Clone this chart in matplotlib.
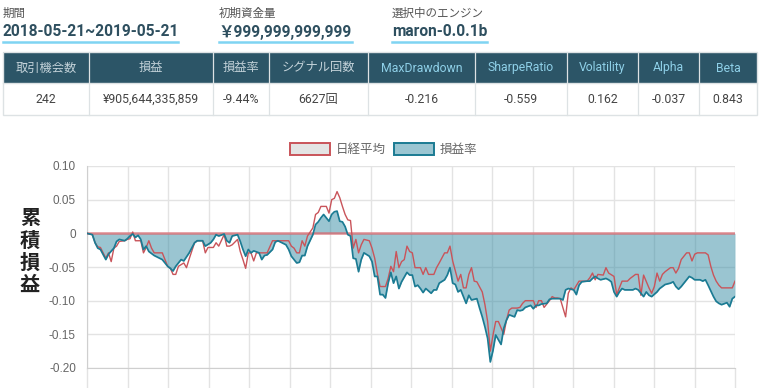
import numpy as np
import matplotlib
matplotlib.use("Agg")
import matplotlib.pyplot as plt
from matplotlib.patches import Rectangle
from matplotlib.lines import Line2D

W, H = 763, 388
JP = ["Noto Sans CJK JP", "DejaVu Sans"]
RB = ["Roboto", "Noto Sans CJK JP", "DejaVu Sans"]

# === header info ===
info_labels = ["期間", "初期資金量", "選択中のエンジン"]
info_values = ["2018-05-21~2019-05-21", "￥999,999,999,999", "maron-0.0.1b"]

# === summary table ===
table_headers = ["取引機会数", "損益", "損益率", "シグナル回数", "MaxDrawdown",
                 "SharpeRatio", "Volatility", "Alpha", "Beta"]
table_values = ["242", "¥905,644,335,859", "-9.44%", "6627回", "-0.216",
                "-0.559", "0.162", "-0.037", "0.843"]

# === cumulative P/L series (day index, value) ===
series_names = ["日経平均", "損益率"]

strategy_days = [0, 2, 3, 4, 5, 7, 8, 10, 11, 12, 14, 15, 16, 17, 18, 19, 20, 21, 22, 23,
                 25, 27, 28, 30, 31, 32, 33, 35, 36, 38, 40, 41, 43, 44, 46, 47, 48, 49, 51, 52,
                 53, 54, 56, 57, 58, 59, 60, 61, 62, 64, 65, 66, 67, 69, 70, 71, 72, 74, 75, 76,
                 77, 78, 79, 80, 81, 82, 84, 85, 86, 87, 88, 90, 91, 92, 93, 94, 95, 96, 97, 98,
                 99, 100, 101, 102, 103, 105, 106, 107, 108, 109, 110, 111, 112, 113, 114, 115, 116, 117, 119, 120,
                 121, 122, 123, 124, 125, 126, 128, 129, 130, 131, 133, 134, 135, 136, 137, 138, 139, 141, 142, 143,
                 145, 146, 147, 148, 149, 150, 151, 152, 154, 155, 156, 157, 159, 160, 161, 162, 163, 165, 166, 167,
                 168, 169, 171, 172, 173, 174, 176, 177, 178, 179, 181, 182, 183, 184, 186, 187, 188, 189, 190, 191,
                 193, 194, 195, 196, 197, 198, 199, 200, 202, 203, 204, 205, 207, 208, 209, 210, 212, 213, 214, 215,
                 217, 218, 219, 220, 221, 223, 224, 225, 226, 228, 229, 230, 231, 233, 234, 235, 236, 238, 239, 240,
                 241]
strategy_pl = [0, -0.002, -0.014, -0.022, -0.024, -0.039, -0.031, -0.022, -0.012, -0.009,
               -0.011, -0.008, -0.004, -0.001, -0.006, -0.003, -0.009, -0.024, -0.019, -0.027,
               -0.033, -0.037, -0.039, -0.049, -0.052, -0.056, -0.049, -0.039, -0.041, -0.029,
               -0.014, -0.011, -0.011, -0.019, -0.014, -0.009, -0.002, -0.004, -0.001, -0.011,
               -0.014, -0.004, -0.002, -0.012, -0.024, -0.034, -0.024, -0.029, -0.026, -0.029,
               -0.039, -0.033, -0.032, -0.024, -0.013, -0.011, -0.013, -0.017, -0.024, -0.034,
               -0.039, -0.044, -0.043, -0.033, -0.033, -0.019, -0.002, 0.013, 0.017, 0.023,
               0.028, 0.018, 0.028, 0.032, 0.033, 0.018, 0.017, 0.010, -0.002, -0.004,
               -0.037, -0.038, -0.057, -0.039, -0.029, -0.034, -0.042, -0.064, -0.064, -0.091,
               -0.091, -0.096, -0.074, -0.058, -0.074, -0.064, -0.082, -0.072, -0.058, -0.062,
               -0.062, -0.079, -0.077, -0.082, -0.088, -0.082, -0.089, -0.084, -0.084, -0.074,
               -0.069, -0.062, -0.051, -0.074, -0.076, -0.087, -0.084, -0.104, -0.092, -0.099,
               -0.097, -0.111, -0.124, -0.139, -0.156, -0.191, -0.174, -0.151, -0.165, -0.141,
               -0.129, -0.121, -0.124, -0.114, -0.115, -0.114, -0.110, -0.107, -0.112, -0.107,
               -0.107, -0.105, -0.104, -0.098, -0.097, -0.097, -0.097, -0.099, -0.084, -0.082,
               -0.084, -0.091, -0.077, -0.072, -0.071, -0.071, -0.067, -0.064, -0.067, -0.069,
               -0.067, -0.069, -0.072, -0.087, -0.094, -0.087, -0.082, -0.084, -0.084, -0.084,
               -0.082, -0.084, -0.094, -0.087, -0.092, -0.094, -0.087, -0.082, -0.079, -0.076,
               -0.074, -0.072, -0.079, -0.083, -0.079, -0.069, -0.064, -0.066, -0.069, -0.069,
               -0.071, -0.069, -0.077, -0.094, -0.101, -0.104, -0.106, -0.103, -0.109, -0.097,
               -0.094]

nikkei_days = [0, 2, 3, 4, 5, 7, 8, 9, 10, 11, 12, 14, 15, 16, 17, 18, 19, 20, 21, 22,
               23, 24, 25, 27, 28, 30, 31, 32, 33, 34, 36, 37, 38, 40, 41, 43, 44, 45, 47, 48,
               49, 51, 52, 53, 54, 56, 57, 58, 59, 60, 61, 62, 63, 64, 66, 67, 69, 71, 73, 75,
               76, 77, 78, 79, 80, 81, 82, 84, 85, 86, 87, 89, 90, 91, 92, 93, 94, 95, 96, 97,
               98, 99, 100, 101, 102, 103, 105, 106, 107, 108, 109, 110, 111, 112, 113, 114, 115, 116, 117, 118,
               119, 120, 121, 122, 124, 125, 126, 127, 129, 130, 131, 133, 134, 135, 136, 138, 139, 140, 141, 142,
               143, 144, 145, 147, 148, 149, 150, 151, 152, 153, 155, 156, 157, 158, 160, 161, 162, 163, 165, 166,
               167, 168, 169, 170, 172, 173, 174, 175, 176, 178, 179, 180, 181, 183, 184, 186, 187, 188, 189, 190,
               192, 193, 194, 196, 197, 198, 199, 201, 202, 204, 205, 206, 207, 209, 210, 211, 212, 213, 214, 215,
               217, 218, 219, 220, 221, 223, 224, 225, 226, 227, 228, 230, 231, 232, 233, 234, 235, 236, 238, 239,
               240, 241]
nikkei_pl = [0, -0.002, -0.014, -0.020, -0.021, -0.037, -0.029, -0.042, -0.022, -0.019,
             -0.012, -0.011, -0.009, -0.008, 0.002, -0.011, -0.011, -0.011, -0.029, -0.021,
             -0.011, -0.022, -0.029, -0.029, -0.029, -0.049, -0.052, -0.061, -0.061, -0.049,
             -0.044, -0.051, -0.038, -0.014, -0.011, -0.011, -0.029, -0.021, -0.021, -0.014,
             -0.019, -0.002, -0.019, -0.019, -0.017, -0.009, -0.027, -0.039, -0.052, -0.029,
             -0.029, -0.041, -0.029, -0.029, -0.029, -0.029, -0.011, -0.011, -0.011, -0.011,
             -0.019, -0.022, -0.029, -0.029, -0.011, -0.019, -0.004, 0.008, 0.028, 0.031,
             0.040, 0.040, 0.030, 0.050, 0.052, 0.062, 0.053, 0.040, 0.028, 0.020,
             0.019, -0.022, -0.009, -0.029, -0.017, -0.009, -0.011, -0.022, -0.037, -0.060,
             -0.079, -0.079, -0.079, -0.067, -0.049, -0.057, -0.027, -0.051, -0.042, -0.039,
             -0.019, -0.027, -0.029, -0.051, -0.051, -0.061, -0.051, -0.061, -0.061, -0.051,
             -0.044, -0.029, -0.029, -0.019, -0.041, -0.071, -0.061, -0.081, -0.081, -0.061,
             -0.051, -0.071, -0.072, -0.087, -0.106, -0.131, -0.175, -0.151, -0.131, -0.131,
             -0.150, -0.129, -0.114, -0.111, -0.111, -0.110, -0.104, -0.100, -0.100, -0.100,
             -0.110, -0.100, -0.100, -0.110, -0.100, -0.094, -0.096, -0.096, -0.097, -0.124,
             -0.089, -0.081, -0.084, -0.071, -0.071, -0.071, -0.066, -0.059, -0.069, -0.061,
             -0.062, -0.051, -0.059, -0.064, -0.091, -0.081, -0.071, -0.071, -0.067, -0.061,
             -0.061, -0.092, -0.062, -0.081, -0.089, -0.079, -0.059, -0.071, -0.061, -0.057,
             -0.051, -0.051, -0.059, -0.052, -0.039, -0.029, -0.029, -0.041, -0.031, -0.029,
             -0.029, -0.029, -0.032, -0.049, -0.062, -0.071, -0.077, -0.081, -0.081, -0.081,
             -0.081, -0.071]

y_ticks = [0.10, 0.05, 0, -0.05, -0.10, -0.15, -0.20]
y_tick_labels = ["0.10", "0.05", "0", "-0.05", "-0.10", "-0.15", "-0.20"]
y_title = "累積損益"


def fx(x):
    return x / W


def fy(y):
    return 1 - y / H


fig = plt.figure(figsize=(W / 100, H / 100), dpi=100)

# === top info block ===
info_x = [3, 219, 392]
info_w = [175, 133, 95]
for x0, w, lab, val in zip(info_x, info_w, info_labels, info_values):
    fig.text(fx(x0), fy(13), lab, fontsize=8.3, color="#555555", va="center", family=JP)
    fig.text(fx(x0), fy(32), val, fontsize=11.2, weight="bold", color="#2e4f5f",
             va="center", family=RB)
    fig.add_artist(Line2D([fx(x0), fx(x0 + w)], [fy(41.5), fy(41.5)],
                          color="#7fd4f2", lw=1.8, transform=fig.transFigure))

# === table ===
col_edges = [3, 89, 213, 269, 368, 475, 567, 638, 699, 757]
row_top, row_mid, row_bot = 52, 83, 115
fig.add_artist(Rectangle((fx(col_edges[0]), fy(row_mid)), fx(col_edges[-1] - col_edges[0]),
                         (row_mid - row_top) / H, transform=fig.transFigure,
                         facecolor="#2c5567", edgecolor="none"))
fig.add_artist(Rectangle((fx(col_edges[0]), fy(row_bot)), fx(col_edges[-1] - col_edges[0]),
                         (row_bot - row_top) / H, transform=fig.transFigure,
                         facecolor="none", edgecolor="#dde2e4", lw=1))
fig.add_artist(Line2D([fx(col_edges[0]), fx(col_edges[-1])], [fy(row_mid)] * 2,
                      color="#dde2e4", lw=1, transform=fig.transFigure))
for xe in col_edges[1:-1]:
    fig.add_artist(Line2D([fx(xe), fx(xe)], [fy(row_top), fy(row_bot)],
                          color="#dde2e4", lw=0.9, transform=fig.transFigure))
for i, (hd, val) in enumerate(zip(table_headers, table_values)):
    cx = (col_edges[i] + col_edges[i + 1]) / 2
    hc = "#8fd0e8" if hd.isascii() else "#c3d2d9"
    fig.text(fx(cx), fy(68), hd, fontsize=8.8, color=hc, ha="center", va="center", family=RB)
    fig.text(fx(cx), fy(99.5), val, fontsize=8.8, color="#444444", ha="center", va="center",
             family=RB)

# === legend ===
legend_boxes = [(290, "#e4e4e4", "#c9545a"), (394, "#9bc6d2", "#1b7b93")]
for (bx, fc, ec), name in zip(legend_boxes, series_names):
    fig.add_artist(Rectangle((fx(bx), fy(155)), fx(40), 12 / H, transform=fig.transFigure,
                             facecolor=fc, edgecolor=ec, lw=1.4))
    fig.text(fx(bx + 46), fy(149), name, fontsize=9, color="#666666", va="center", family=JP)

# === y title, one char per line ===
for ch, yy in zip(y_title, [218, 240, 262, 284]):
    fig.text(fx(30), fy(yy), ch, fontsize=14.5, weight="bold", color="#222222",
             ha="center", va="center", family=JP)

# === chart ===
ax = fig.add_axes([fx(87), fy(368), (735 - 87) / W, (368 - 166) / H])
ax.set_xlim(0, 241)
ax.set_ylim(-0.2, 0.1)

ax.fill_between(strategy_days, strategy_pl, 0, color=(54 / 255, 140 / 255, 165 / 255, 0.5),
                lw=0, zorder=2)
ax.axhline(0, color="#d9686f", lw=1.8, alpha=0.75, zorder=3)
ax.plot(nikkei_days, nikkei_pl, color="#c9545a", lw=1.0, zorder=4)
ax.plot(strategy_days, strategy_pl, color="#1b7b93", lw=1.25, zorder=5)

ax.set_yticks(y_ticks)
ax.set_yticklabels(y_tick_labels, family=["Liberation Sans", "DejaVu Sans"], fontsize=8.5,
                   color="#666666")
ax.set_xticks(np.linspace(0, 241, 17))
ax.tick_params(axis="y", length=0, pad=8)
ax.tick_params(axis="x", length=16, color="#e3e3e3", width=1, labelbottom=False)
ax.grid(True, color="#e3e3e3", lw=1, zorder=1)
ax.set_axisbelow(True)
for s in ["top", "right"]:
    ax.spines[s].set_visible(False)
ax.spines["left"].set_color("#cfcfcf")
ax.spines["bottom"].set_color("#cfcfcf")

fig.savefig("out.png", dpi=100)
